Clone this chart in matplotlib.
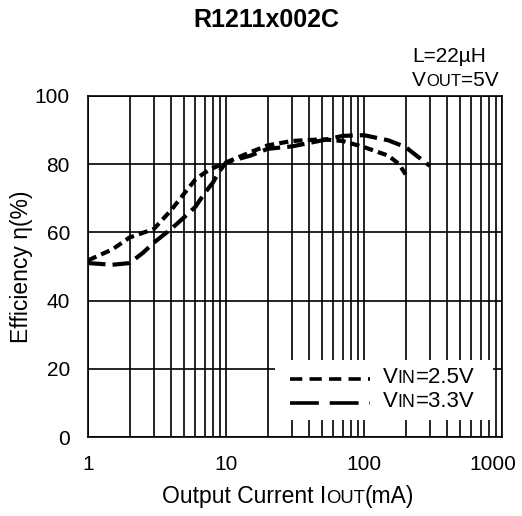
import matplotlib
matplotlib.use('Agg')
from matplotlib import pyplot as plt
from matplotlib.patches import Rectangle
from matplotlib.transforms import ScaledTranslation

plt.rcParams['font.family'] = ['Liberation Sans', 'DejaVu Sans']

# Efficiency curves
iout_25 = [1, 1.5, 2, 3, 4, 5, 6, 7, 8, 10, 15, 20, 30, 50, 70, 100, 150, 180, 200]
eff_25 = [51.8, 55, 58.5, 61, 66.5, 71.5, 75.5, 77.5, 78.8, 80.5, 83.5, 85.5,
          86.8, 87.3, 86.8, 85, 82.5, 80, 77]

iout_33 = [1, 1.5, 2, 2.5, 3, 4, 5, 6, 7, 8, 9, 10, 15, 20, 30, 50, 70, 100,
           150, 200, 300]
eff_33 = [51, 50.5, 51, 54, 57, 61, 64.5, 67.5, 71.5, 74.5, 78, 80.5, 82.5,
          84.5, 85.2, 87, 88.3, 88.5, 87, 85, 79.5]

x_ticks = [1, 10, 100, 1000]
x_tick_labels = ['1', '10', '100', '1000']
y_ticks = [0, 20, 40, 60, 80, 100]

TICK = 15
LAB = 16.5
LAB_SMALL = 13.3
LEG = 16
LEG_SMALL = 12.8

SHORT = (0, (2.2, 1.25))
LONG = (0, (4.2, 1.7))


# Text where some pieces are smaller caps, chained left to right on one baseline
def chain(container, x, y, parts, transform, zorder=3):
    s0, size0 = parts[0]
    t = container.text(x, y, s0, fontsize=size0, va='baseline', ha='left',
                       transform=transform, zorder=zorder)
    prev = t
    prev_size = size0
    for s, size in parts[1:]:
        off = 0.21 * (prev_size - size)
        prev = plt.annotate(s, xy=(1, 0), xycoords=prev, xytext=(0, off),
                            textcoords='offset points', fontsize=size,
                            va='bottom', ha='left', zorder=zorder,
                            annotation_clip=False)
        prev_size = size
    return t


fig = plt.figure(figsize=(5.22, 5.16), dpi=100)
ax = fig.add_axes([0.1686, 0.1531, 0.7931, 0.6609])

ax.set_xscale('log')
ax.set_xlim(1, 1000)
ax.set_ylim(0, 100)

ax.plot(iout_25, eff_25, color='black', lw=3.0, linestyle=SHORT, zorder=3)
ax.plot(iout_33, eff_33, color='black', lw=3.0, linestyle=LONG, zorder=3)

ax.set_xticks(x_ticks)
ax.set_xticklabels(x_tick_labels)
ax.set_yticks(y_ticks)
ax.tick_params(axis='both', which='both', length=0, labelsize=TICK)
ax.tick_params(axis='x', pad=13)
ax.tick_params(axis='y', pad=13)
# last x label sits a bit inside the figure edge
last = ax.get_xticklabels()[-1]
last.set_transform(last.get_transform() + ScaledTranslation(-9 / 100, 0, fig.dpi_scale_trans))
ax.grid(True, which='both', color='black', lw=1.2)
for sp in ax.spines.values():
    sp.set_linewidth(1.2)

ax.set_ylabel('Efficiency η(%)', fontsize=LAB)
ax.yaxis.set_label_coords(-0.133, 0.5)

# legend box drawn by hand so the labels can use small caps
ax.add_patch(Rectangle((0.452, 0.05), 0.526, 0.176, transform=ax.transAxes,
                       facecolor='white', edgecolor='none', zorder=4))
ax.plot([0.488, 0.681], [0.170, 0.170], transform=ax.transAxes, color='black',
        lw=2.6, linestyle=(0, (3.4, 2.0)), zorder=5)
ax.plot([0.488, 0.681], [0.0997, 0.0997], transform=ax.transAxes,
        color='black', lw=2.6, linestyle=(0, (8.0, 3.0)), zorder=5)
chain(ax, 0.712, 0.158, [('V', LEG), ('IN', LEG_SMALL), ('=2.5V', LEG)],
      ax.transAxes, zorder=6)
chain(ax, 0.712, 0.088, [('V', LEG), ('IN', LEG_SMALL), ('=3.3V', LEG)],
      ax.transAxes, zorder=6)

# title and conditions
fig.text(266 / 522, 1 - 20 / 516, 'R1211x002C', fontsize=18, weight='bold',
         ha='center', va='center')
fig.text(412 / 522, (516 - 62) / 516, 'L=22µH', fontsize=15,
         ha='left', va='baseline')
chain(fig, 412 / 522, (516 - 86) / 516,
      [('V', 15), ('OUT', 12), ('=5V', 15)], fig.transFigure)

# x label with small caps
chain(fig, 162 / 522, (516 - 503) / 516,
      [('Output Current I', LAB), ('OUT', LAB_SMALL), ('(mA)', LAB)],
      fig.transFigure)

plt.savefig('out.png', dpi=100)
